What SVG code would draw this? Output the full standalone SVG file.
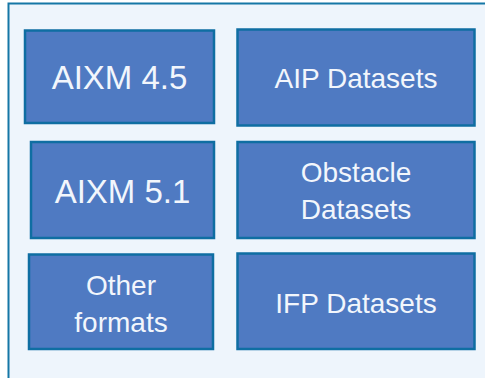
<svg xmlns="http://www.w3.org/2000/svg" width="485" height="378" viewBox="0 0 485 378">
  <style>
    .frame { fill: #EEF5FC; stroke: #1577A6; stroke-width: 2; }
    .box { fill: #4F7AC2; stroke: #0F6EA2; stroke-width: 2.5; }
    .lbl { font-family: "Liberation Sans", Arial, sans-serif; fill: #F2F6FC; text-anchor: middle; }
    .big { font-size: 33px; }
    .med { font-size: 28px; }
  </style>
  <rect width="485" height="378" fill="#FFFFFF"/>
  <rect class="frame" x="8.5" y="3.5" width="500" height="400"/>
  <g id="aixm45">
    <rect class="box" x="25" y="30.5" width="189" height="92.5"/>
    <text class="lbl big" x="119.5" y="89">AIXM 4.5</text>
  </g>
  <g id="aip">
    <rect class="box" x="237.5" y="29.5" width="237" height="96"/>
    <text class="lbl med" x="356" y="88">AIP Datasets</text>
  </g>
  <g id="aixm51">
    <rect class="box" x="31" y="142" width="183" height="96"/>
    <text class="lbl big" x="122.5" y="203">AIXM 5.1</text>
  </g>
  <g id="obstacle">
    <rect class="box" x="237.5" y="142" width="237" height="96"/>
    <text class="lbl med" x="356" y="182">Obstacle</text>
    <text class="lbl med" x="356" y="219">Datasets</text>
  </g>
  <g id="other">
    <rect class="box" x="29" y="254.5" width="184" height="94.5"/>
    <text class="lbl med" x="121" y="295">Other</text>
    <text class="lbl med" x="121" y="332">formats</text>
  </g>
  <g id="ifp">
    <rect class="box" x="237.5" y="253.5" width="237" height="95.5"/>
    <text class="lbl med" x="356" y="313">IFP Datasets</text>
  </g>
</svg>
